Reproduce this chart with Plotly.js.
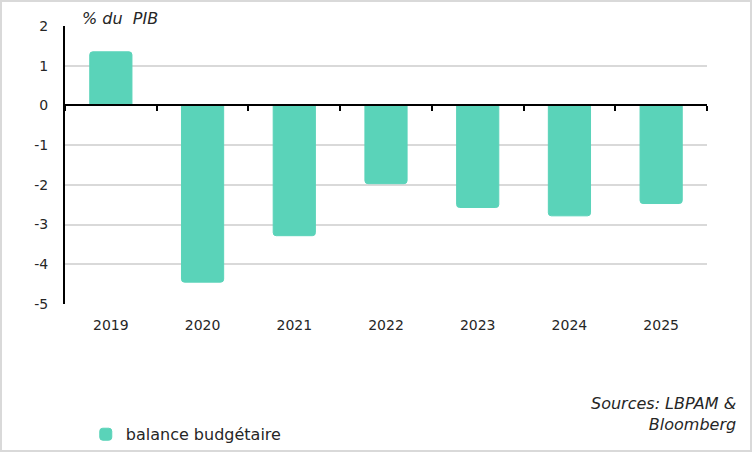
<!DOCTYPE html>
<html>
<head>
<meta charset="utf-8">
<script src="https://cdn.plot.ly/plotly-3.0.1.min.js"></script>
<style>
  body { margin: 0; background: #ffffff; }
  #frame {
    width: 752px; height: 452px; box-sizing: border-box;
    border: 2px solid #d9d9d9; background: #ffffff;
  }
</style>
</head>
<body>
<div id="frame"><div id="myDiv"></div></div>
<script>
// Solde budgétaire, % du PIB
var years = ['2019', '2020', '2021', '2022', '2023', '2024', '2025']
var balance = [1.35, -4.45, -3.28, -1.97, -2.57, -2.78, -2.47]
var yTicks = [2, 1, 0, -1, -2, -3, -4, -5]

var barColor = '#5ad3b9'
var font = 'DejaVu Sans, Open Sans, sans-serif'

var data = [
  {
    x: years, y: balance, type: 'bar', name: 'balance budgétaire',
    marker: {color: barColor, line: {color: barColor, width: 1}},
    hoverinfo: 'x+y'
  }
]

var layout = {
  width: 748,
  height: 448,
  margin: {l: 63, r: 43, t: 24, b: 146},
  paper_bgcolor: '#ffffff',
  plot_bgcolor: '#ffffff',
  font: {family: font, size: 14, color: '#262626'},
  bargap: 0.54,
  barcornerradius: 3,
  showlegend: true,
  legend: {
    orientation: 'h', xref: 'container', yref: 'container',
    x: 0.112, y: 0.035, xanchor: 'left', yanchor: 'middle',
    font: {size: 16, color: '#262626'}, itemwidth: 30
  },
  xaxis: {
    type: 'category', categoryarray: years, range: [-0.5, 6.5],
    showline: false, ticks: '', showgrid: false, zeroline: false,
    tickfont: {size: 14}, ticklabelstandoff: 11
  },
  // axe horizontal au niveau de zéro, avec les graduations entre catégories
  xaxis2: {
    type: 'category', categoryarray: years, range: [-0.5, 6.5],
    overlaying: 'x', anchor: 'free', position: 5 / 7,
    showline: true, linecolor: '#000000', linewidth: 2,
    ticks: 'outside', tickson: 'boundaries', ticklen: 5, tickwidth: 2, tickcolor: '#000000',
    showticklabels: false, showgrid: false, zeroline: false
  },
  yaxis: {
    range: [-5, 2], tickvals: yTicks, ticktext: yTicks.map(String),
    showline: true, linecolor: '#000000', linewidth: 2,
    showgrid: true, gridcolor: '#d9d9d9', gridwidth: 2,
    zeroline: false, ticks: '', tickfont: {size: 14}, ticklabelstandoff: 12
  },
  annotations: [
    {
      text: '<i>% du  PIB</i>', xref: 'paper', yref: 'paper', x: 0.024, y: 0.985,
      xanchor: 'left', yanchor: 'bottom', showarrow: false, font: {size: 16, color: '#262626'}
    },
    {
      text: '<i>Sources: LBPAM &amp;<br>Bloomberg</i>', xref: 'paper', yref: 'paper',
      x: 1.048, y: -0.318, xanchor: 'right', yanchor: 'top', align: 'right',
      showarrow: false, font: {size: 16, color: '#262626'}
    }
  ]
}

// trace invisible pour tracer l'axe xaxis2
data.push({x: years, y: balance.map(function () { return null }), xaxis: 'x2', type: 'scatter',
  mode: 'markers', showlegend: false, hoverinfo: 'skip'})

Plotly.newPlot('myDiv', data, layout, {displayModeBar: false, staticPlot: true})
</script>
</body>
</html>
